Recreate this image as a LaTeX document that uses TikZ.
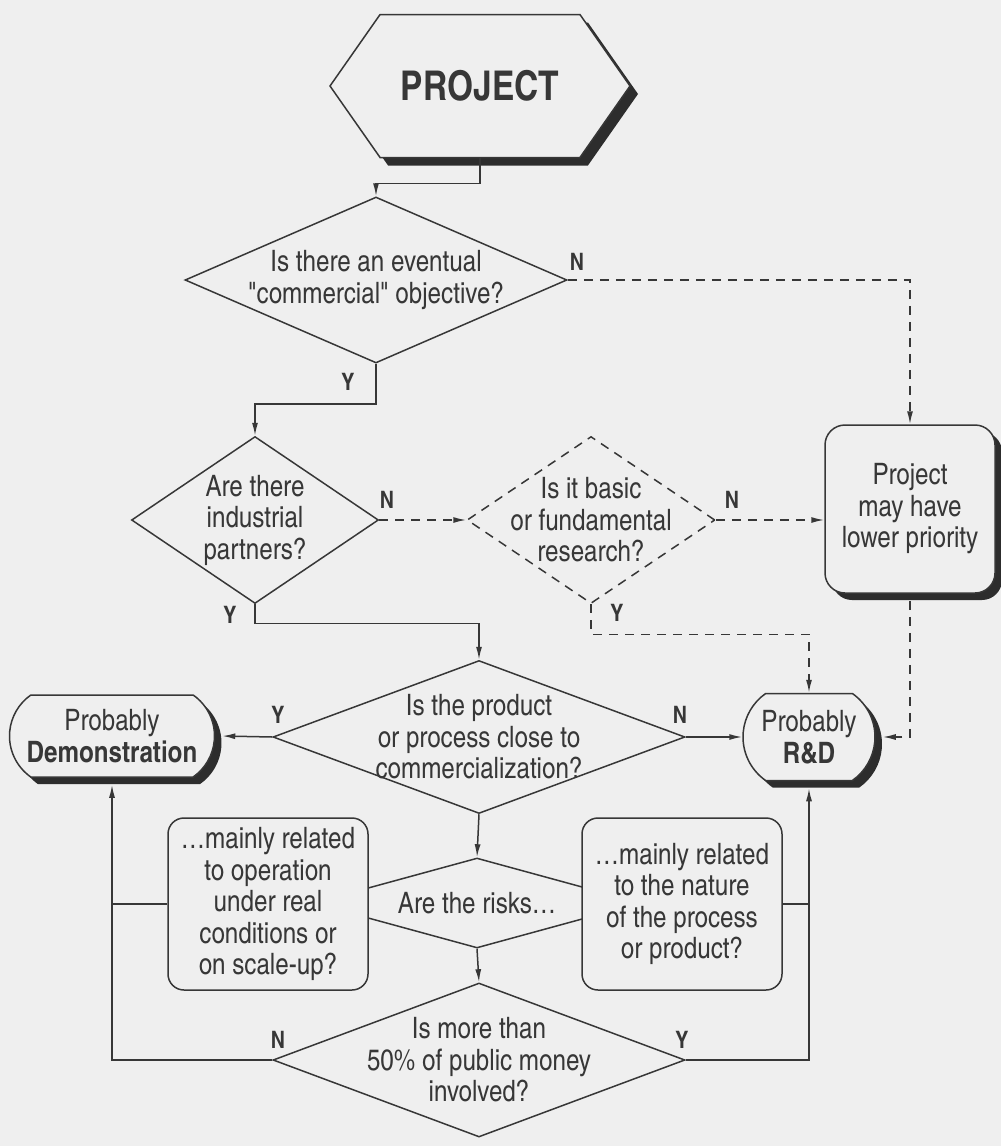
\documentclass[tikz,border=0pt]{standalone}
\usepackage{fontspec}
\setmainfont{texgyreheroscn}[Extension=.otf, UprightFont=*-regular, BoldFont=*-bold]
\newfontfamily\plainmarks{texgyreheroscn}[Extension=.otf, UprightFont=*-regular]
\usepackage{tikz}
\usetikzlibrary{arrows.meta, shapes.geometric, shapes.misc, shapes.symbols, shadows, calc}
\definecolor{inkGray}{RGB}{55,55,55}
\definecolor{paperGray}{RGB}{239,239,239}
\definecolor{shadeGray}{RGB}{45,45,45}
\newcommand{\dq}{{\plainmarks"}}

\begin{document}
\begin{tikzpicture}[x=1pt, y=-1pt, color=inkGray, line width=1.5pt,
  every node/.style={font=\fontsize{29.5}{31.5}\selectfont},
  question/.style={diamond, draw, fill=paperGray, align=center, inner sep=-12pt},
  maybeq/.style={question, dash pattern=on 9pt off 7pt},
  verdict/.style={rounded rectangle, rounded rectangle arc length=110, draw, fill=paperGray,
    align=center, inner xsep=0pt,
    drop shadow={shadow xshift=7pt, shadow yshift=-7pt, fill=shadeGray, opacity=1}},
  remark/.style={rectangle, rounded corners=16pt, draw, fill=paperGray, align=center, inner sep=0pt},
  yn/.style={font=\fontsize{24}{24}\selectfont\bfseries},
  flow/.style={-{Latex[length=13pt,width=6pt]}},
  maybe/.style={flow, dash pattern=on 9pt off 7pt}]
  \useasboundingbox (0,0) rectangle (1001,1146);
  \fill[paperGray] (0,0) rectangle (1001,1146);
  % start  (y axis points down, one unit per reference pixel)
  \node[signal, signal to=west and east, signal pointer angle=110, draw, fill=paperGray,
    minimum width=300pt, minimum height=143pt, font=\fontsize{41}{41}\selectfont\bfseries,
    drop shadow={shadow xshift=8pt, shadow yshift=-8pt, fill=shadeGray, opacity=1}]
    (project) at (480,86) {PROJECT};
  % questions
  \node[question, shape aspect=2.3, minimum width=382pt, minimum height=166pt]
    (commercial) at (376,280) {Is there an eventual\\\dq commercial\dq\ objective?};
  \node[question, shape aspect=1.5, minimum width=247pt, minimum height=167pt]
    (partners) at (255,520) {Are there\\industrial\\partners?};
  \node[maybeq, shape aspect=1.5, minimum width=248pt, minimum height=167pt]
    (basic) at (591,520) {Is it basic\\or fundamental\\research?};
  \node[question, shape aspect=2.7, minimum width=412pt, minimum height=153pt]
    (close) at (479,737) {Is the product\\or process close to\\commercialization?};
  \node[question, shape aspect=3.6, minimum width=328pt, minimum height=90pt]
    (risks) at (477,903) {Are the risks\ldots};
  \node[question, shape aspect=2.7, minimum width=412pt, minimum height=154pt]
    (money) at (479,1060) {Is more than\\50\% of public money\\involved?};
  % outcomes
  \node[rectangle, rounded corners=20pt, draw, fill=paperGray, align=center, inner sep=0pt,
    minimum width=170pt, minimum height=168pt,
    drop shadow={shadow xshift=7pt, shadow yshift=-7pt, fill=shadeGray, opacity=1}]
    (lowprio) at (910,509) {Project\\may have\\lower priority};
  \node[verdict, minimum width=205pt, minimum height=82pt]
    (demo) at (112,736) {Probably\\\textbf{Demonstration}};
  \node[verdict, minimum width=132pt, minimum height=87pt]
    (rnd) at (809,737) {Probably\\\textbf{R\&D}};
  % the two kinds of risk
  \node[remark, minimum width=200pt, minimum height=172pt]
    (operation) at (268,904) {\ldots mainly related\\to operation\\under real\\conditions or\\on scale-up?};
  \node[remark, minimum width=200pt, minimum height=172pt]
    (nature) at (682,904) {\ldots mainly related\\to the nature\\of the process\\or product?};

  % connectors
  \draw[flow] (project.south) -- ++(0,25) -| (commercial.north);
  \draw[flow] (commercial.south) -- ++(0,40) -| (partners.north);
  \draw[maybe] (commercial.east) -| (lowprio.north);
  \draw[maybe] (partners.east) -- (basic.west);
  \draw[flow] (partners.south) -- ++(0,19) -| (close.north);
  \draw[maybe] (basic.east) -- (basic.east -| lowprio.west);
  \draw[maybe] (basic.south) -- ++(0,30) -| (rnd.north);
  \draw[maybe] ([yshift=-7pt]lowprio.south) |- ([xshift=7pt]rnd.east);
  \draw[flow] (close.west) -- ([xshift=7pt]demo.east);
  \draw[flow] (close.east) -- (rnd.west);
  \draw[flow] (close.south) -- (risks.north);
  \draw[flow] (risks.south) -- (money.north);
  \draw[flow] (money.west) -| ([yshift=-7pt]demo.south);
  \draw[flow] (money.east) -| ([yshift=-7pt]rnd.south);
  \draw (operation.west) -- (operation.west -| demo.south);
  \draw (nature.east) -- (nature.east -| rnd.south);

  % answers
  \node[yn] (commercialN) at (577,262) {N};
  \node[yn] (commercialY) at (348,382) {Y};
  \node[yn] (partnersN) at (387,500) {N};
  \node[yn] (partnersY) at (230,615) {Y};
  \node[yn] (basicN) at (732,500) {N};
  \node[yn] (basicY) at (617,613) {Y};
  \node[yn] (closeY) at (278,715) {Y};
  \node[yn] (closeN) at (680,715) {N};
  \node[yn] (moneyN) at (278,1040) {N};
  \node[yn] (moneyY) at (682,1040) {Y};
\end{tikzpicture}
\end{document}
